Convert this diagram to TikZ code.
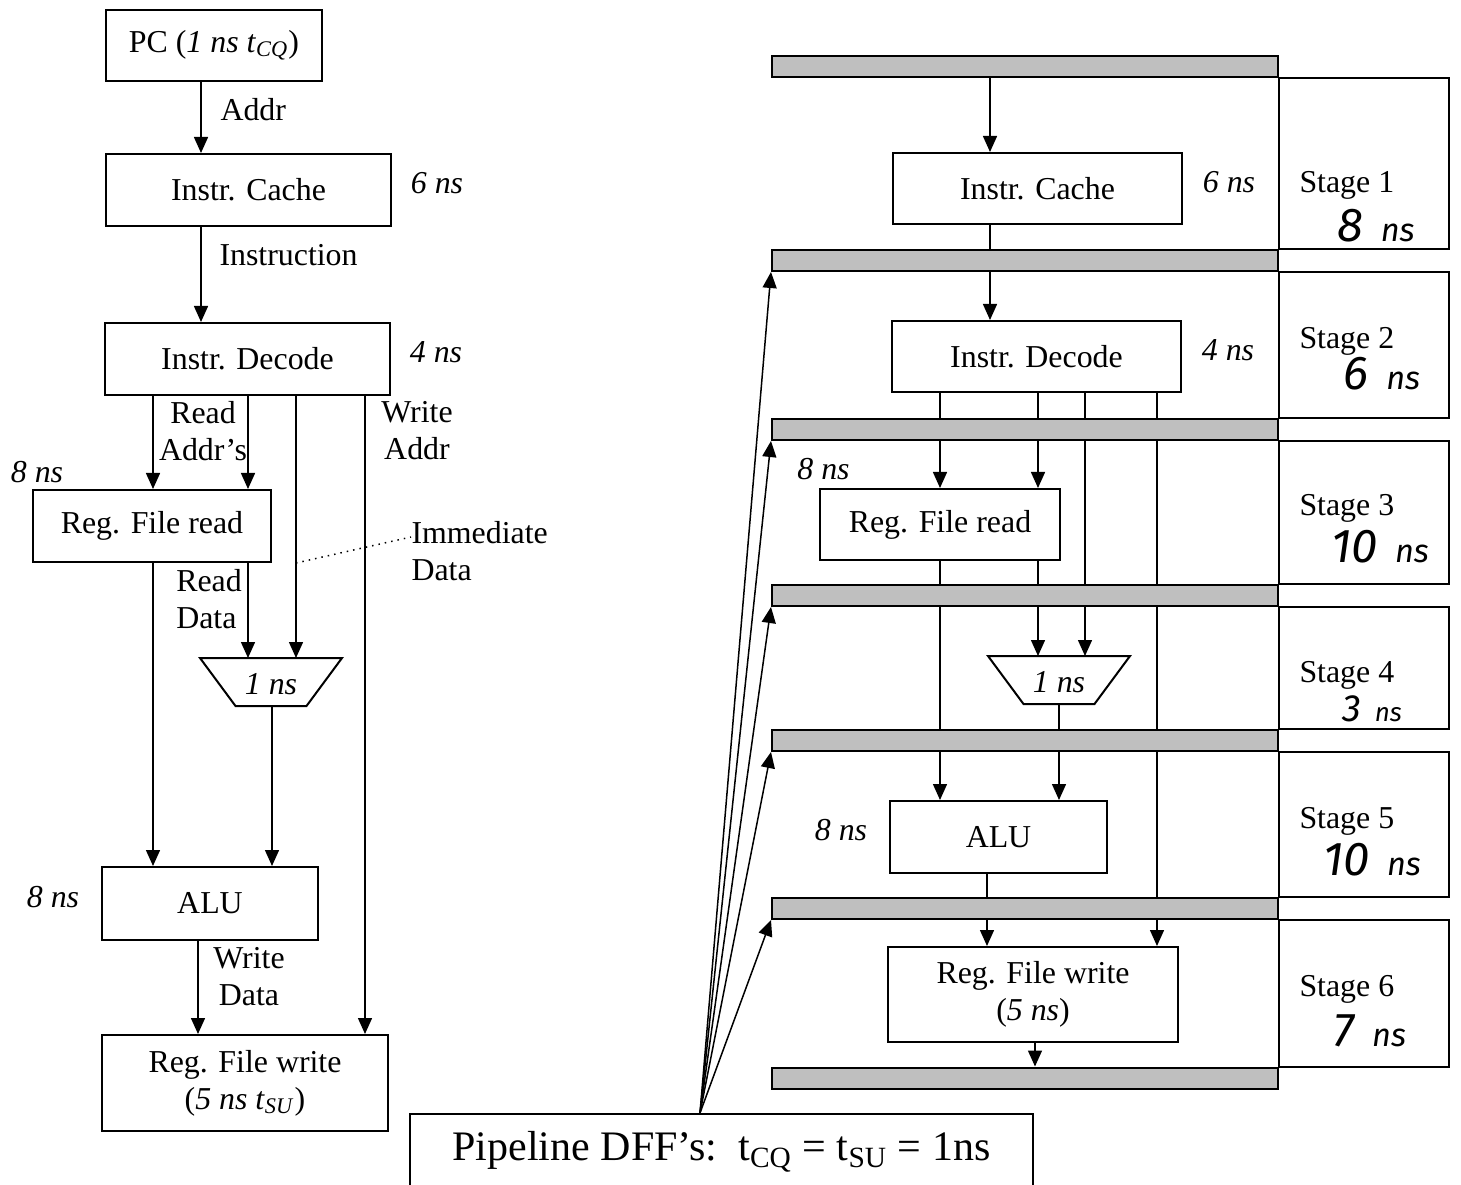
\documentclass[tikz,border=0pt]{standalone}
\usepackage{fontspec}
\setmainfont{Liberation Serif}
\newfontfamily\handfont{Fira Sans}
\usetikzlibrary{arrows.meta}
\newcommand{\hwns}[1]{{\handfont\itshape\fontsize{19}{19}\selectfont #1}\hspace{7pt}{\handfont\itshape\fontsize{13}{13}\selectfont ns}}

\begin{document}
\begin{tikzpicture}[x=0.4pt,y=-0.4pt,
    txt/.style={font=\fontsize{12.75}{14.8}\selectfont, inner sep=0pt, align=center},
    blk/.style={draw, line width=0.8pt, txt},
    dff/.style={draw, line width=0.8pt, fill=black!25, minimum width=202.4pt, minimum height=8.4pt, inner sep=0pt},
    wire/.style={line width=0.6pt},
    arr/.style={wire, -{Triangle[length=6.4pt,width=5.6pt]}}]
  \useasboundingbox (0,0) rectangle (1461,1185);
  \clip (0,0) rectangle (1461,1185);

  % single-cycle datapath
  \node[blk, minimum width=86.4pt, minimum height=28.4pt] (pc) at (214,45.5) {PC (\textit{1 ns t}\textsubscript{\textit{CQ}})};
  \node[blk, minimum width=114pt, minimum height=28.8pt] (icl) at (248.5,190) {Instr. Cache};
  \node[blk, minimum width=114pt, minimum height=28.8pt] (idl) at (247.5,359) {Instr. Decode};
  \node[blk, minimum width=95.2pt, minimum height=28.8pt] (rfl) at (152,526) {Reg. File read};
  \node[txt] (muxl) at (271,684) {\textit{1 ns}};
  \draw[wire, line width=0.8pt] ([shift={(-71,-26)}]muxl.center) coordinate (mlt) -- ++(142,0) -- ++(-35.5,48) coordinate (mlb) -- ++(-71,0) -- cycle;
  \node[blk, minimum width=86.4pt, minimum height=29.2pt] (alul) at (210,903.5) {ALU};
  \node[blk, minimum width=114.4pt, minimum height=38.4pt] (rwl) at (245,1083) {Reg. File write\\(\textit{5 ns t}\textsubscript{\textit{SU}})};

  \node[txt, anchor=west] (addr) at (220,110) {Addr};
  \node[txt, anchor=west] (instr) at (219,255) {Instruction};
  \node[txt] (tl1) at (437,183) {\textit{6 ns}};
  \node[txt] (tl2) at (436,352) {\textit{4 ns}};
  \node[txt] (rdaddr) at (203,431) {Read\\Addr’s};
  \node[txt] (wraddr) at (417,431) {Write\\Addr};
  \node[txt] (tl3) at (37,472) {\textit{8 ns}};
  \node[txt, align=left] (rddata) at (209,599) {Read\\Data};
  \node[txt, align=left, anchor=west] (imm) at (411,551) {Immediate\\Data};
  \node[txt] (tl4) at (53,897) {\textit{8 ns}};
  \node[txt] (wrdata) at (249,977) {Write\\Data};

  \coordinate (la) at (201,0);
  \coordinate (lb) at (153,0);
  \coordinate (lc) at (248,0);
  \coordinate (ld) at (296,0);
  \coordinate (le) at (365,0);
  \coordinate (lf) at (272,0);
  \coordinate (lg) at (198,0);
  \coordinate (imtap) at (296,563);

  \draw[arr] (pc.south -| la) -- (icl.north -| la);
  \draw[arr] (icl.south -| la) -- (idl.north -| la);
  \draw[arr] (idl.south -| lb) -- (rfl.north -| lb);
  \draw[arr] (idl.south -| lc) -- (rfl.north -| lc);
  \draw[arr] (idl.south -| ld) -- (mlt -| ld);
  \draw[arr] (idl.south -| le) -- (rwl.north -| le);
  \draw[arr] (rfl.south -| lb) -- (alul.north -| lb);
  \draw[arr] (rfl.south -| lc) -- (mlt -| lc);
  \draw[arr] (mlb -| lf) -- (alul.north -| lf);
  \draw[arr] (alul.south -| lg) -- (rwl.north -| lg);
  \draw[wire, dotted] (imtap) -- ([yshift=5.6pt]imm.west);

  % pipelined version
  \foreach \n/\y in {0/67,1/260.5,2/429.5,3/595.5,4/740.5,5/908.5,6/1078}
    \node[dff] (r\n) at (1025,\y) {};

  \node[blk, minimum width=115.6pt, minimum height=28.4pt] (icr) at (1037.5,188.5) {Instr. Cache};
  \node[blk, minimum width=115.6pt, minimum height=28.4pt] (idr) at (1036.5,356.5) {Instr. Decode};
  \node[blk, minimum width=96pt, minimum height=28.4pt] (rfr) at (940,524.5) {Reg. File read};
  \node[txt] (muxr) at (1059,682) {\textit{1 ns}};
  \draw[wire, line width=0.8pt] ([shift={(-71,-26)}]muxr.center) coordinate (mrt) -- ++(142,0) -- ++(-35.5,48) coordinate (mrb) -- ++(-71,0) -- cycle;
  \node[blk, minimum width=86.8pt, minimum height=28.8pt] (alur) at (998.5,837) {ALU};
  \node[blk, minimum width=116pt, minimum height=38pt] (rwr) at (1033,994.5) {Reg. File write\\(\textit{5 ns})};

  \node[txt] (tr1) at (1229,182) {\textit{6 ns}};
  \node[txt] (tr2) at (1228,350) {\textit{4 ns}};
  \node[txt] (tr3) at (823.5,469) {\textit{8 ns}};
  \node[txt] (tr4) at (841,830) {\textit{8 ns}};

  \coordinate (xa) at (990,0);
  \coordinate (xb) at (940,0);
  \coordinate (xc) at (1038,0);
  \coordinate (xd) at (1085,0);
  \coordinate (xe) at (1157,0);
  \coordinate (xf) at (1059,0);
  \coordinate (xg) at (987,0);
  \coordinate (xh) at (1035,0);

  \draw[arr] (r0.south -| xa) -- (icr.north -| xa);
  \draw[wire] (icr.south -| xa) -- (r1.north -| xa);
  \draw[arr] (r1.south -| xa) -- (idr.north -| xa);
  \foreach \c in {xb,xc,xd,xe}
    \draw[wire] (idr.south -| \c) -- (r2.north -| \c);
  \draw[arr] (r2.south -| xb) -- (rfr.north -| xb);
  \draw[arr] (r2.south -| xc) -- (rfr.north -| xc);
  \draw[wire] (r2.south -| xd) -- (r3.north -| xd);
  \draw[wire] (r2.south -| xe) -- (r3.north -| xe);
  \draw[wire] (rfr.south -| xb) -- (r3.north -| xb);
  \draw[wire] (rfr.south -| xc) -- (r3.north -| xc);
  \draw[wire] (r3.south -| xb) -- (r4.north -| xb);
  \draw[arr] (r3.south -| xc) -- (mrt -| xc);
  \draw[arr] (r3.south -| xd) -- (mrt -| xd);
  \draw[wire] (r3.south -| xe) -- (r4.north -| xe);
  \draw[wire] (mrb -| xf) -- (r4.north -| xf);
  \draw[arr] (r4.south -| xb) -- (alur.north -| xb);
  \draw[arr] (r4.south -| xf) -- (alur.north -| xf);
  \draw[wire] (r4.south -| xe) -- (r5.north -| xe);
  \draw[wire] (alur.south -| xg) -- (r5.north -| xg);
  \draw[arr] (r5.south -| xg) -- (rwr.north -| xg);
  \draw[arr] (r5.south -| xe) -- (rwr.north -| xe);
  \draw[arr] (rwr.south -| xh) -- (r6.north -| xh);

  \foreach \a/\b in {0/1,1/2,2/3,3/4,4/5,5/6}
    \draw[wire, line width=0.8pt] (r\a.south east) rectangle ([xshift=68pt]r\b.north east);
  \foreach \n/\y/\t/\hx/\hy/\s in {1/185/8/1376/226/1,2/341/6/1382/374/1,3/508/10/1380/547/1,4/675/3/1372/709/0.8,5/821/10/1372/860/1,6/989/7/1370/1031/1}{
    \node[txt, anchor=west] (st\n) at (1299,\y) {Stage \n};
    \node[inner sep=0pt, scale=\s] (hw\n) at (\hx,\hy) {\hwns{\t}};
  }

  \node[draw, line width=0.8pt, minimum width=249.2pt, minimum height=30.4pt, inner sep=0pt, font=\fontsize{16.8}{20}\selectfont] (dffs) at (721.5,1152) {Pipeline DFF’s:\ \ t\textsubscript{CQ} = t\textsubscript{SU} = 1ns};
  \coordinate (fan) at ([xshift=-8.6pt]dffs.north);
  \foreach \n in {1,...,5}
    \draw[arr] (fan) -- (r\n.south west);
\end{tikzpicture}
\end{document}
